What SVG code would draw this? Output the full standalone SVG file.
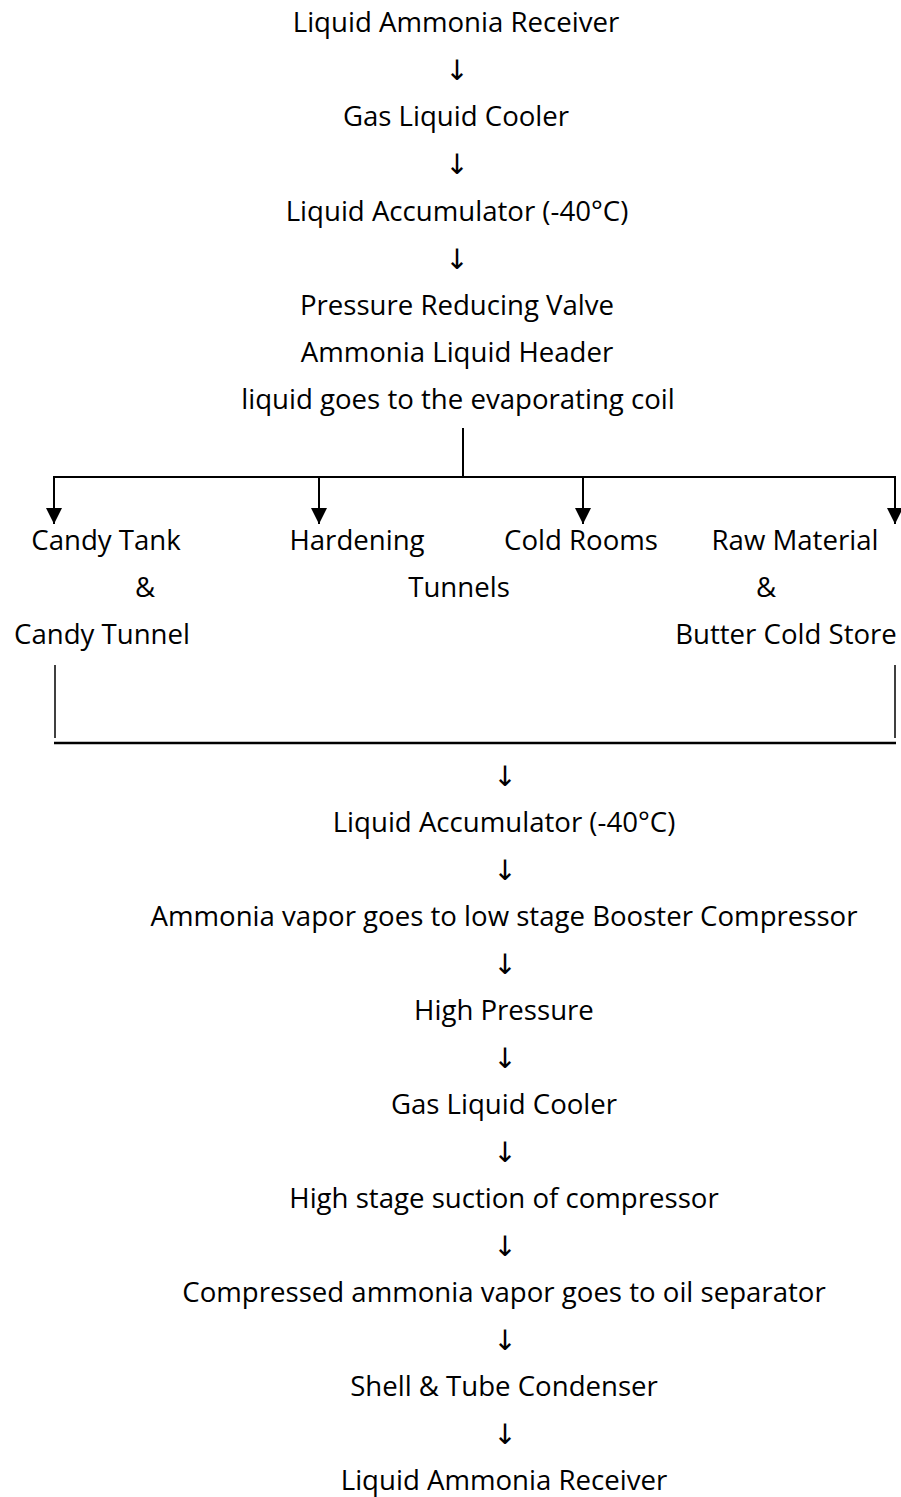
<svg xmlns="http://www.w3.org/2000/svg" width="901" height="1497" viewBox="0 0 901 1497">
<style>
text{font-family:"Open Sans","Noto Sans",sans-serif;font-size:27.6px;fill:#000;text-anchor:middle}
.ar{font-family:"DejaVu Sans",sans-serif;font-size:28px}
.ln{stroke:#000;fill:none}
</style>
<defs>
<marker id="ah" markerWidth="16" markerHeight="16" viewBox="0 0 16 16" refX="16" refY="8" orient="auto" markerUnits="userSpaceOnUse">
<path d="M0,0 L16,8 L0,16 Z" fill="#000"/>
</marker>
</defs>
<rect width="901" height="1497" fill="#fff"/>
<g id="top-chain">
<text x="456" y="32">Liquid Ammonia Receiver</text>
<text class="ar" x="457" y="80">↓</text>
<text x="456" y="126">Gas Liquid Cooler</text>
<text class="ar" x="457" y="174">↓</text>
<text x="457" y="221">Liquid Accumulator (-40°C)</text>
<text class="ar" x="457" y="269">↓</text>
<text x="457" y="315">Pressure Reducing Valve</text>
<text x="457" y="362">Ammonia Liquid Header</text>
<text x="458" y="409">liquid goes to the evaporating coil</text>
</g>
<g id="connectors">
<line class="ln" stroke-width="2" x1="463" y1="428" x2="463" y2="477"/>
<line class="ln" stroke-width="2" x1="53" y1="477" x2="896" y2="477"/>
<line class="ln" stroke-width="2" x1="54" y1="476" x2="54" y2="524" marker-end="url(#ah)"/>
<line class="ln" stroke-width="2" x1="319" y1="476" x2="319" y2="524" marker-end="url(#ah)"/>
<line class="ln" stroke-width="2" x1="583" y1="476" x2="583" y2="524" marker-end="url(#ah)"/>
<line class="ln" stroke-width="2" x1="895" y1="476" x2="895" y2="524" marker-end="url(#ah)"/>
<line class="ln" stroke-width="1.5" x1="55" y1="665" x2="55" y2="738"/>
<line class="ln" stroke-width="1.5" x1="895" y1="665" x2="895" y2="738"/>
<line class="ln" stroke-width="2.5" x1="54" y1="743" x2="896" y2="743"/>
</g>
<g id="candy">
<text x="106" y="550">Candy Tank</text>
<text x="145" y="597">&amp;</text>
<text x="102" y="644">Candy Tunnel</text>
</g>
<g id="hardening">
<text x="357" y="550">Hardening</text>
<text x="459" y="597">Tunnels</text>
</g>
<g id="cold-rooms">
<text x="581" y="550">Cold Rooms</text>
</g>
<g id="raw-material">
<text x="795" y="550">Raw Material</text>
<text x="766" y="597">&amp;</text>
<text x="786" y="644">Butter Cold Store</text>
</g>
<g id="bottom-chain">
<text class="ar" x="505" y="786">↓</text>
<text x="504" y="832">Liquid Accumulator (-40°C)</text>
<text class="ar" x="505" y="880">↓</text>
<text x="504" y="926">Ammonia vapor goes to low stage Booster Compressor</text>
<text class="ar" x="505" y="974">↓</text>
<text x="504" y="1020">High Pressure</text>
<text class="ar" x="505" y="1068">↓</text>
<text x="504" y="1114">Gas Liquid Cooler</text>
<text class="ar" x="505" y="1162">↓</text>
<text x="504" y="1208">High stage suction of compressor</text>
<text class="ar" x="505" y="1256">↓</text>
<text x="504" y="1302">Compressed ammonia vapor goes to oil separator</text>
<text class="ar" x="505" y="1350">↓</text>
<text x="504" y="1396">Shell &amp; Tube Condenser</text>
<text class="ar" x="505" y="1444">↓</text>
<text x="504" y="1490">Liquid Ammonia Receiver</text>
</g>
</svg>
